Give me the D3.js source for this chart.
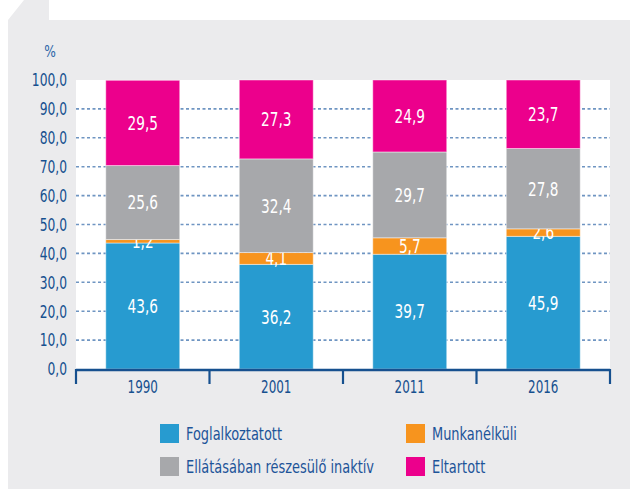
<!DOCTYPE html>
<html>
<head>
<meta charset="utf-8">
<script src="https://cdn.jsdelivr.net/npm/d3@7"></script>
<style>
  body { margin: 0; background: #fff; }
  svg { display: block; font-family: "DejaVu Sans Condensed", "DejaVu Sans", sans-serif; }
</style>
</head>
<body>
<svg id="chart"></svg>
<script>
const width = 630;
const height = 489;

// --- Data ---
const years = ["1990", "2001", "2011", "2016"];
const seriesNames = ["Foglalkoztatott", "Munkanélküli", "Ellátásában részesülő inaktív", "Eltartott"];
const seriesColors = ["#279bd0", "#f7941e", "#a7a8ab", "#ec008c"];
const employed   = [43.6, 36.2, 39.7, 45.9];
const unemployed = [1.2, 4.1, 5.7, 2.6];
const inactive   = [25.6, 32.4, 29.7, 27.8];
const dependent  = [29.5, 27.3, 24.9, 23.7];
const yTicks = [0, 10, 20, 30, 40, 50, 60, 70, 80, 90, 100];

const rows = years.map((y, i) => ({
  year: y,
  [seriesNames[0]]: employed[i],
  [seriesNames[1]]: unemployed[i],
  [seriesNames[2]]: inactive[i],
  [seriesNames[3]]: dependent[i]
}));

// squeeze text horizontally to mimic the condensed original font
const place = (px, py, sx = 0.8) => `translate(${px},${py}) scale(${sx},1)`;
const fmt = v => d3.format(".1f")(v).replace(".", ",");

const svg = d3.select("#chart")
  .attr("width", width)
  .attr("height", height)
  .attr("viewBox", [0, 0, width, height]);

// --- Background panel ---
svg.append("path")
  .attr("d", "M8,20 L24,0 L49,0 L49,20 L630,20 L630,489 L8,489 Z")
  .attr("fill", "#ebebed");

const plot = { left: 76, right: 610, top: 80, bottom: 369 };

svg.append("rect")
  .attr("x", plot.left)
  .attr("y", plot.top)
  .attr("width", plot.right - plot.left)
  .attr("height", plot.bottom - plot.top)
  .attr("fill", "#fff");

// --- Scales ---
const x = d3.scaleBand()
  .domain(years)
  .range([plot.left, plot.right])
  .paddingInner(0.446)
  .paddingOuter(0.223);

const y = d3.scaleLinear()
  .domain([0, 100])
  .range([plot.bottom, plot.top]);

const color = d3.scaleOrdinal().domain(seriesNames).range(seriesColors);

const axisBlue = "#16508f";

// --- Grid lines (dotted, behind bars) ---
svg.append("g")
  .selectAll("line")
  .data(yTicks.filter(d => d > 0 && d < 100))
  .join("line")
  .attr("x1", plot.left)
  .attr("x2", plot.right)
  .attr("y1", d => y(d))
  .attr("y2", d => y(d))
  .attr("stroke", "#6f95c2")
  .attr("stroke-width", 1.6)
  .attr("stroke-dasharray", "3,2.5");

// --- Y axis labels ---
svg.append("g")
  .selectAll("text")
  .data(yTicks)
  .join("text")
  .attr("transform", d => place(67, y(d), 0.78))
  .attr("dy", "0.36em")
  .attr("text-anchor", "end")
  .attr("font-size", 17.5)
  .attr("fill", axisBlue)
  .text(fmt);

svg.append("text")
  .attr("transform", place(50, 57, 0.85))
  .attr("text-anchor", "middle")
  .attr("font-size", 16)
  .attr("fill", "#2a64a8")
  .text("%");

// --- Stacked bars ---
const stacked = d3.stack().keys(seriesNames)(rows);

const layers = svg.append("g")
  .selectAll("g")
  .data(stacked)
  .join("g")
  .attr("fill", d => color(d.key));

layers.selectAll("rect")
  .data(d => d)
  .join("rect")
  .attr("x", d => x(d.data.year))
  .attr("width", x.bandwidth())
  .attr("y", d => y(d[1]))
  .attr("height", d => y(d[0]) - y(d[1]))
  .attr("stroke", "#fff")
  .attr("stroke-opacity", 0.45)
  .attr("stroke-width", 1);

// --- Value labels ---
layers.selectAll("text")
  .data(d => d)
  .join("text")
  .attr("transform", d => place(x(d.data.year) + x.bandwidth() / 2, (y(d[0]) + y(d[1])) / 2, 0.8))
  .attr("dy", "0.36em")
  .attr("text-anchor", "middle")
  .attr("font-size", 19)
  .attr("fill", "#fff")
  .text(d => fmt(d[1] - d[0]));

// --- X axis ---
const xAxis = svg.append("g");
xAxis.append("line")
  .attr("x1", plot.left)
  .attr("x2", plot.right)
  .attr("y1", plot.bottom + 1)
  .attr("y2", plot.bottom + 1)
  .attr("stroke", axisBlue)
  .attr("stroke-width", 2.5);

const boundaries = years.map(d => x(d) - (x.step() - x.bandwidth()) / 2).concat([plot.right]);
xAxis.selectAll(".tick")
  .data(boundaries)
  .join("line")
  .attr("class", "tick")
  .attr("x1", d => d)
  .attr("x2", d => d)
  .attr("y1", plot.bottom)
  .attr("y2", plot.bottom + 15)
  .attr("stroke", axisBlue)
  .attr("stroke-width", 2.2);

xAxis.selectAll("text")
  .data(years)
  .join("text")
  .attr("transform", d => place(x(d) + x.bandwidth() / 2, 393, 0.76))
  .attr("text-anchor", "middle")
  .attr("font-size", 17.5)
  .attr("fill", axisBlue)
  .text(d => d);

// --- Legend ---
const legendPos = [
  { x: 160, y: 424 },
  { x: 406, y: 424 },
  { x: 160, y: 457 },
  { x: 406, y: 457 }
];

const legend = svg.append("g")
  .selectAll("g")
  .data(seriesNames)
  .join("g")
  .attr("transform", (d, i) => `translate(${legendPos[i].x},${legendPos[i].y})`);

legend.append("rect")
  .attr("width", 19)
  .attr("height", 19)
  .attr("fill", d => color(d));

legend.append("text")
  .attr("transform", place(26, 10, 0.8))
  .attr("dy", "0.36em")
  .attr("font-size", 18)
  .attr("fill", "#1d5499")
  .text(d => d);
</script>
</body>
</html>
